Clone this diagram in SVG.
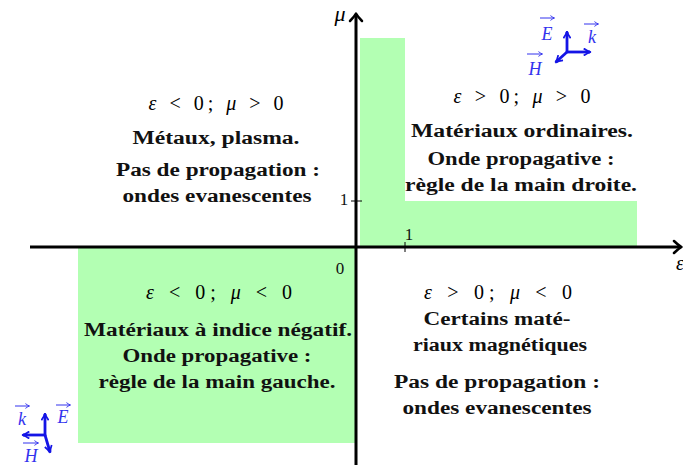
<svg xmlns="http://www.w3.org/2000/svg" width="683" height="465" viewBox="0 0 683 465">
<defs>
<marker id="ba" viewBox="0 0 10 10" refX="8" refY="5" markerWidth="3.2" markerHeight="3.2" orient="auto" markerUnits="strokeWidth">
<path d="M1,1 Q5,4 9,5 Q5,6 1,9" fill="none" stroke="#1414e6" stroke-width="2"/>
</marker>
<marker id="va" viewBox="0 0 10 10" refX="8" refY="5" markerWidth="6" markerHeight="6" orient="auto" markerUnits="strokeWidth">
<path d="M2,1 Q6,4 9,5 Q6,6 2,9" fill="none" stroke="#3333ee" stroke-width="1.5"/>
</marker>
</defs>
<style>
.g{fill:#b3ffb3;stroke:none}
.ax{stroke:#000;stroke-width:3;fill:none}
.tk{stroke:#000;stroke-width:1;fill:none}
.ah{stroke:#000;stroke-width:2.5;fill:none;stroke-linecap:round;stroke-linejoin:round}
.b{font-family:"Liberation Serif",serif;font-weight:bold;font-size:18px;fill:#111;text-anchor:middle}
.m{font-family:"Liberation Serif",serif;font-size:20px;fill:#000;text-anchor:middle}
.i{font-style:italic}
.n{font-family:"Liberation Serif",serif;font-size:17px;fill:#111;text-anchor:middle}
.vl{font-family:"Liberation Serif",serif;font-style:italic;font-size:18px;fill:#3333ee;text-anchor:middle}
.vec{stroke:#3333ee;stroke-width:1;fill:none;marker-end:url(#va)}
.tri{stroke:#1414e6;stroke-width:2.8;fill:none;marker-end:url(#ba)}
</style>

<g id="regions">
<rect class="g" x="360" y="38" width="45" height="209"/>
<rect class="g" x="405" y="201" width="232" height="46"/>
<rect class="g" x="78" y="247" width="278" height="196"/>
</g>

<g id="connectors">
<line class="ax" x1="30" y1="247" x2="681" y2="247"/>
<path class="ah" d="M674,241 Q678,245 681.5,247 Q678,249 674,253"/>
<line class="ax" x1="356" y1="465" x2="356" y2="14"/>
<path class="ah" d="M350,21 Q354,17 356,13.5 Q358,17 362,21"/>
<line class="tk" x1="351" y1="201" x2="362" y2="201"/>
<line class="tk" x1="405" y1="242" x2="405" y2="252"/>
</g>

<g id="axis-labels">
<text class="m i" x="340" y="21" style="font-size:22px">μ</text>
<text class="m i" x="676" y="270" style="font-size:20px;text-anchor:start">ε</text>
<text class="n" x="344" y="205">1</text>
<text class="n" x="409" y="240">1</text>
<text class="n" x="340" y="274">0</text>
</g>

<g id="q2">
<text class="m" x="216" y="110" textLength="135" lengthAdjust="spacing"><tspan class="i">ε</tspan> &lt; 0; <tspan class="i">μ</tspan> &gt; 0</text>
<text class="b" x="216" y="144" textLength="167" lengthAdjust="spacingAndGlyphs">Métaux, plasma.</text>
<text class="b" x="218" y="176" textLength="204" lengthAdjust="spacingAndGlyphs">Pas de propagation :</text>
<text class="b" x="217" y="202" textLength="189" lengthAdjust="spacingAndGlyphs">ondes evanescentes</text>
</g>

<g id="q1">
<text class="m" x="522" y="103" textLength="137" lengthAdjust="spacing"><tspan class="i">ε</tspan> &gt; 0; <tspan class="i">μ</tspan> &gt; 0</text>
<text class="b" x="522" y="137" textLength="222" lengthAdjust="spacingAndGlyphs">Matériaux ordinaires.</text>
<text class="b" x="521" y="165" textLength="187" lengthAdjust="spacingAndGlyphs">Onde propagative :</text>
<text class="b" x="521" y="191" textLength="232" lengthAdjust="spacingAndGlyphs">règle de la main droite.</text>
</g>

<g id="q3">
<text class="m" x="219" y="299" textLength="146" lengthAdjust="spacing"><tspan class="i">ε</tspan> &lt; 0; <tspan class="i">μ</tspan> &lt; 0</text>
<text class="b" x="218" y="336" textLength="268" lengthAdjust="spacingAndGlyphs">Matériaux à indice négatif.</text>
<text class="b" x="217" y="362" textLength="189" lengthAdjust="spacingAndGlyphs">Onde propagative :</text>
<text class="b" x="217" y="388" textLength="237" lengthAdjust="spacingAndGlyphs">règle de la main gauche.</text>
</g>

<g id="q4">
<text class="m" x="498" y="299" textLength="148" lengthAdjust="spacing"><tspan class="i">ε</tspan> &gt; 0; <tspan class="i">μ</tspan> &lt; 0</text>
<text class="b" x="497" y="325" textLength="147" lengthAdjust="spacingAndGlyphs">Certains maté-</text>
<text class="b" x="500" y="351" textLength="174" lengthAdjust="spacingAndGlyphs">riaux magnétiques</text>
<text class="b" x="497" y="388" textLength="206" lengthAdjust="spacingAndGlyphs">Pas de propagation :</text>
<text class="b" x="497" y="414" textLength="189" lengthAdjust="spacingAndGlyphs">ondes evanescentes</text>
</g>

<g id="triad-right">
<line class="tri" x1="567" y1="52" x2="567" y2="32"/>
<line class="tri" x1="566" y1="52" x2="590" y2="52"/>
<line class="tri" x1="567" y1="52" x2="556" y2="62"/>
<text class="vl" x="547" y="40">E</text>
<line class="vec" x1="540" y1="18" x2="554" y2="18"/>
<text class="vl" x="592" y="43">k</text>
<line class="vec" x1="584" y1="24" x2="598" y2="24"/>
<text class="vl" x="535" y="75">H</text>
<line class="vec" x1="527" y1="54" x2="542" y2="54"/>
</g>

<g id="triad-left">
<line class="tri" x1="45" y1="436" x2="45" y2="414"/>
<line class="tri" x1="46" y1="435" x2="23" y2="435"/>
<line class="tri" x1="45" y1="435" x2="50" y2="452"/>
<text class="vl" x="63" y="423">E</text>
<line class="vec" x1="56" y1="405" x2="70" y2="405"/>
<text class="vl" x="22" y="425">k</text>
<line class="vec" x1="15" y1="406" x2="29" y2="406"/>
<text class="vl" x="31" y="462">H</text>
<line class="vec" x1="23" y1="443" x2="38" y2="443"/>
</g>
</svg>
